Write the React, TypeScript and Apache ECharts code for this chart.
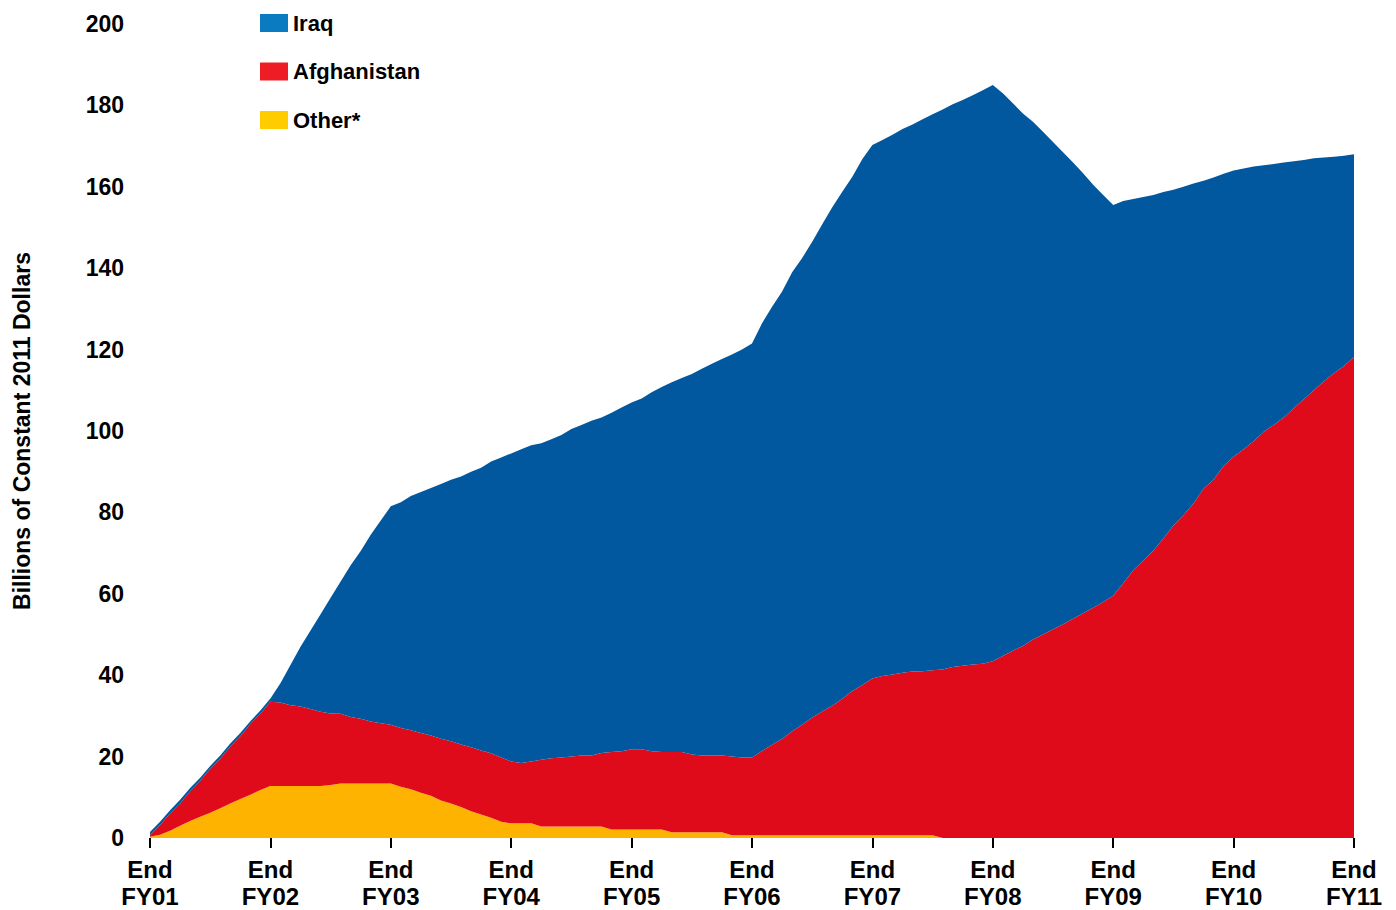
import React, { useEffect, useRef } from "react";
import * as echarts from "echarts";

// Monthly points, end of FY01 (Sep 2001) through end of FY11 (Sep 2011)
const START_YEAR = 2001;
const START_MONTH = 9;
const months: string[] = Array.from({ length: 121 }, (_, i) => {
  const m = START_MONTH - 1 + i;
  const y = START_YEAR + Math.floor(m / 12);
  return `${y}-${String((m % 12) + 1).padStart(2, "0")}`;
});

const fyLabels = ["FY01", "FY02", "FY03", "FY04", "FY05", "FY06", "FY07", "FY08", "FY09", "FY10", "FY11"];
const yTicks = [0, 20, 40, 60, 80, 100, 120, 140, 160, 180, 200];

// Billions of constant 2011 dollars
const other = [
  0.3, 0.8, 1.8, 3.0, 4.2, 5.2, 6.2, 7.3, 8.5, 9.6, 10.6, 11.8,
  12.8, 12.8, 12.8, 12.8, 12.8, 12.8, 13.0, 13.4, 13.4, 13.4, 13.4, 13.4,
  13.4, 12.6, 12.0, 11.1, 10.4, 9.2, 8.5, 7.6, 6.6, 5.8, 5.0, 4.0,
  3.6, 3.6, 3.6, 2.8, 2.8, 2.8, 2.8, 2.8, 2.8, 2.8, 2.1, 2.1,
  2.1, 2.1, 2.1, 2.1, 1.4, 1.4, 1.4, 1.4, 1.4, 1.4, 0.7, 0.7,
  0.7, 0.7, 0.7, 0.7, 0.7, 0.7, 0.7, 0.7, 0.7, 0.7, 0.7, 0.7,
  0.7, 0.7, 0.7, 0.7, 0.7, 0.7, 0.7, 0, 0, 0, 0, 0,
  0, 0, 0, 0, 0, 0, 0, 0, 0, 0, 0, 0,
  0, 0, 0, 0, 0, 0, 0, 0, 0, 0, 0, 0,
  0, 0, 0, 0, 0, 0, 0, 0, 0, 0, 0, 0,
  0,
];

const afghanistan = [
  0.5, 2.4, 4.2, 5.5, 7.3, 8.8, 10.8, 12.2, 14.0, 15.4, 17.4, 18.7,
  20.7, 20.5, 19.8, 19.5, 18.9, 18.2, 17.6, 17.1, 16.3, 15.9, 15.2, 14.8,
  14.4, 14.4, 14.5, 14.7, 14.8, 15.2, 15.3, 15.4, 15.7, 15.7, 15.8, 15.8,
  15.2, 14.8, 15.2, 16.4, 16.8, 17.0, 17.2, 17.5, 17.5, 18.1, 19.0, 19.2,
  19.7, 19.7, 19.2, 19.0, 19.7, 19.7, 19.1, 18.9, 18.9, 18.9, 19.3, 19.1,
  19.1, 20.7, 22.2, 23.6, 25.5, 27.1, 28.9, 30.4, 31.8, 33.5, 35.4, 36.9,
  38.5, 39.1, 39.5, 39.9, 40.2, 40.3, 40.5, 41.4, 42.0, 42.3, 42.6, 42.8,
  43.4, 44.7, 46.0, 47.2, 48.8, 50.0, 51.3, 52.5, 53.9, 55.2, 56.6, 58.0,
  59.5, 62.6, 65.8, 68.2, 70.6, 73.6, 76.8, 79.3, 82.2, 85.8, 88.0, 91.4,
  93.7, 95.5, 97.5, 99.8, 101.5, 103.3, 105.6, 107.8, 110.0, 112.2, 114.2, 116.0,
  118.2,
];

const iraq = [
  0.7, 0.8, 0.8, 0.9, 0.8, 0.8, 0.7, 0.8, 0.7, 0.8, 0.7, 0.8,
  0.8, 4.7, 9.9, 14.7, 19.3, 24.0, 28.4, 32.5, 37.3, 41.2, 45.9, 49.8,
  53.7, 55.5, 57.5, 59.2, 60.8, 62.6, 64.2, 65.8, 67.7, 69.5, 71.7, 73.7,
  75.7, 77.1, 77.7, 77.8, 78.4, 79.2, 80.5, 81.2, 82.2, 82.4, 83.4, 84.5,
  85.2, 86.2, 88.2, 89.7, 90.9, 91.9, 93.5, 95.0, 96.2, 97.4, 98.8, 100.2,
  101.7, 105.1, 107.6, 110.0, 112.8, 114.7, 116.9, 119.7, 122.5, 124.6, 126.4, 129.2,
  131.1, 131.7, 132.6, 133.6, 134.4, 135.6, 136.6, 137.6, 138.3, 139.0, 139.9, 140.9,
  141.6, 138.3, 134.5, 130.8, 127.2, 123.5, 119.7, 116.0, 112.1, 108.1, 103.9, 100.0,
  96.0, 93.9, 91.2, 89.3, 87.4, 85.1, 82.5, 80.7, 78.6, 75.7, 74.3, 71.8,
  70.3, 69.0, 67.5, 65.5, 64.1, 62.7, 60.7, 58.8, 57.0, 55.0, 53.2, 51.6,
  49.8,
];

const FONT = '"Liberation Sans", Arial, Helvetica, sans-serif';

const AREA_COLORS = { iraq: "#02589E", afghanistan: "#E00B1A", other: "#FDB300" };
const LEGEND_COLORS = { iraq: "#0B7BC1", afghanistan: "#EE1D25", other: "#FFCC00" };

export default function App() {
  const ref = useRef<HTMLDivElement>(null);

  useEffect(() => {
    if (!ref.current) return;
    const chart = echarts.init(ref.current, undefined, { renderer: "svg" });
    const isYearTick = (index: number) => index % 12 === 0;

    const mkSeries = (name: string, data: number[], color: string) => ({
      name,
      type: "line",
      stack: "total",
      data,
      symbol: "none",
      smooth: false,
      lineStyle: { width: 0, color },
      itemStyle: { color },
      areaStyle: { color, opacity: 1 },
      emphasis: { disabled: true },
    });

    chart.setOption({
      animation: false,
      backgroundColor: "#ffffff",
      textStyle: { fontFamily: FONT },
      grid: { left: 150, right: 42, top: 24, bottom: 72, containLabel: false },
      legend: {
        orient: "vertical",
        left: 255,
        top: 7,
        icon: "rect",
        itemWidth: 28,
        itemHeight: 18,
        itemGap: 26.5,
        selectedMode: false,
        textStyle: { fontSize: 22, fontWeight: "bold", color: "#000", fontFamily: FONT },
        data: [
          { name: "Iraq", itemStyle: { color: LEGEND_COLORS.iraq } },
          { name: "Afghanistan", itemStyle: { color: LEGEND_COLORS.afghanistan } },
          { name: "Other*", itemStyle: { color: LEGEND_COLORS.other } },
        ],
      },
      xAxis: {
        type: "category",
        data: months,
        boundaryGap: false,
        offset: 3,
        axisLine: { show: false },
        axisTick: {
          show: true,
          interval: (index: number) => isYearTick(index),
          length: 10,
          lineStyle: { color: "#000", width: 2 },
        },
        axisLabel: {
          interval: (index: number) => isYearTick(index),
          formatter: (_v: string, index: number) =>
            isYearTick(index) ? `End\n${fyLabels[index / 12]}` : "",
          fontSize: 24,
          fontWeight: "bold",
          color: "#000",
          lineHeight: 27,
          margin: 15,
          fontFamily: FONT,
        },
        splitLine: { show: false },
      },
      yAxis: {
        type: "value",
        min: yTicks[0],
        max: yTicks[yTicks.length - 1],
        interval: 20,
        axisLine: { show: false },
        axisTick: { show: false },
        splitLine: { show: false },
        axisLabel: { fontSize: 23, fontWeight: "bold", color: "#000", margin: 26, fontFamily: FONT },
        name: "Billions of Constant 2011 Dollars",
        nameLocation: "middle",
        nameRotate: 90,
        nameGap: 117,
        nameTextStyle: { fontSize: 23, fontWeight: "bold", color: "#000", fontFamily: FONT },
      },
      series: [
        mkSeries("Other*", other, AREA_COLORS.other),
        mkSeries("Afghanistan", afghanistan, AREA_COLORS.afghanistan),
        mkSeries("Iraq", iraq, AREA_COLORS.iraq),
      ],
    });

    return () => chart.dispose();
  }, []);

  return (
    <div
      ref={ref}
      style={{ position: "fixed", left: 0, top: 0, width: 1396, height: 910, background: "#fff" }}
    />
  );
}
